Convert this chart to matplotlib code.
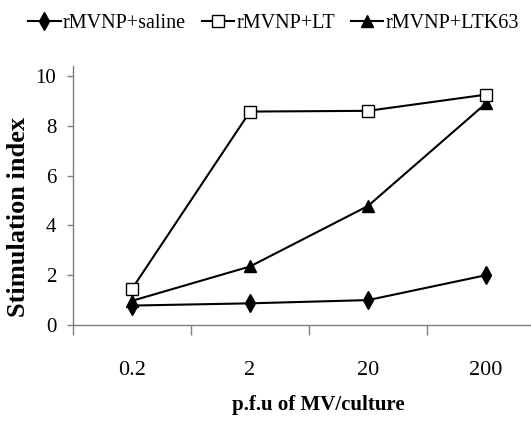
import matplotlib
matplotlib.use("Agg")
import matplotlib.pyplot as plt
import numpy as np

plt.rcParams.update({"font.family": "Liberation Serif"})

doses = ["0.2", "2", "20", "200"]
saline = [0.78, 0.87, 1.0, 2.0]
lt = [1.45, 8.57, 8.6, 9.25]
ltk63 = [0.97, 2.35, 4.78, 8.9]

AXIS_GREY = "#7f7f7f"

fig = plt.figure(figsize=(5.31, 4.25), dpi=100)
ax = fig.add_axes([73 / 531, 100 / 425, 472 / 531, 259 / 425])

x = np.arange(len(doses))
ax.plot(x, saline, color="black", lw=1.5, marker="d", ms=9,
        mfc="black", mec="black", label="rMVNP+saline", zorder=3)
ax.plot(x, lt, color="black", lw=1.5, marker="s", ms=8,
        mfc="white", mec="black", mew=1.0, label="rMVNP+LT", zorder=4)
ax.plot(x, ltk63, color="black", lw=1.5, marker="^", ms=8,
        mfc="black", mec="black", label="rMVNP+LTK63", zorder=3)

ax.set_xlim(-0.5, len(doses) - 0.5)
ax.set_ylim(0, 10.4)
ax.set_yticks(range(0, 11, 2))

ax.set_xticks(x)
ax.set_xticklabels(doses, fontsize=16)
ax.set_xticks(np.arange(-0.5, len(doses), 1.0), minor=True)
ax.tick_params(axis="x", which="major", length=0, pad=26)
ax.tick_params(axis="x", which="minor", direction="out", length=7,
               width=1.0, color=AXIS_GREY)
ax.tick_params(axis="y", direction="out", length=4, width=1.0,
               color=AXIS_GREY, labelsize=15, pad=8)

for side in ("top", "right"):
    ax.spines[side].set_visible(False)
for side in ("left", "bottom"):
    ax.spines[side].set_color(AXIS_GREY)
    ax.spines[side].set_linewidth(1.0)

ax.set_ylabel("Stimulation index", fontsize=19, fontweight="bold")
ax.yaxis.set_label_coords(-0.091, 0.417)
ax.set_xlabel("p.f.u of MV/culture", fontsize=15, fontweight="bold")
ax.xaxis.set_label_coords((318 - 73) / 472, -0.27)

fig.legend(loc="upper center", bbox_to_anchor=(0.515, 1.0), ncol=3,
           frameon=False, fontsize=14.5, handlelength=1.6, handletextpad=0.1,
           columnspacing=0.8, borderaxespad=0.3)

fig.savefig("out.png", dpi=100)
